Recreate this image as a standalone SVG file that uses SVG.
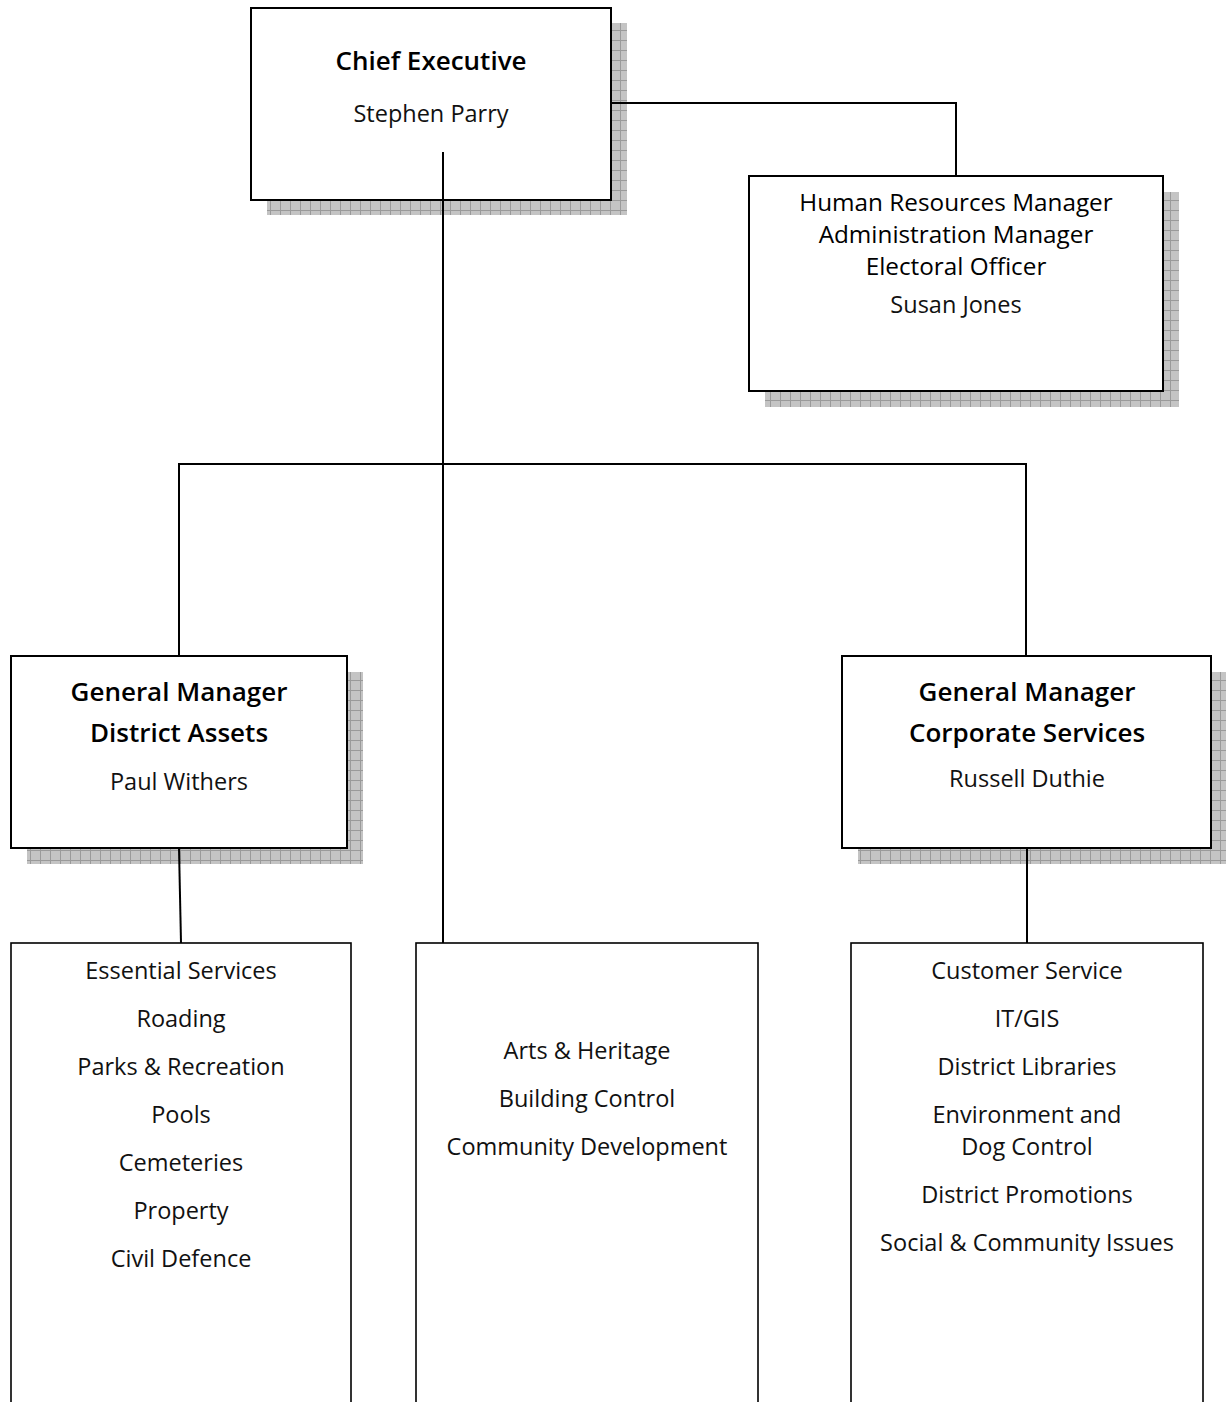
<svg xmlns="http://www.w3.org/2000/svg" width="1226" height="1402" viewBox="0 0 1226 1402">
<defs>
<pattern id="grid" x="0" y="0" width="10" height="10" patternUnits="userSpaceOnUse">
<rect width="10" height="10" fill="#c4c4c4"/>
<path d="M0 0.5H10M0.5 0V10" stroke="#9a9a9a" stroke-width="1" fill="none"/>
</pattern>
</defs>
<style>
.box{fill:#fff;stroke:#000;stroke-width:2}
.box2{fill:#fff;stroke:#000;stroke-width:1.6}
.sh{fill:url(#grid)}
.t{font-family:"Open Sans","Noto Sans",sans-serif;font-size:23.5px;fill:#111;text-anchor:middle}
.b{font-family:"Open Sans","Noto Sans",sans-serif;font-size:26px;font-weight:600;fill:#000;text-anchor:middle}
.h{font-family:"Open Sans","Noto Sans",sans-serif;font-size:24.3px;fill:#000;text-anchor:middle}
.ln{stroke:#000;stroke-width:2;fill:none}
</style>
<g id="chief">
<rect class="sh" x="267" y="23" width="360" height="192"/>
<rect class="box" x="251" y="8" width="360" height="192"/>
<text class="b" x="431" y="70">Chief Executive</text>
<text class="t" x="431" y="122">Stephen Parry</text>
</g>
<g id="hr">
<rect class="sh" x="765" y="192" width="414" height="215"/>
<rect class="box" x="749" y="176" width="414" height="215"/>
<text class="h" x="956" y="211">Human Resources Manager</text>
<text class="h" x="956" y="243">Administration Manager</text>
<text class="h" x="956" y="275">Electoral Officer</text>
<text class="t" x="956" y="313">Susan Jones</text>
</g>
<g id="gm-assets">
<rect class="sh" x="27" y="672" width="336" height="192"/>
<rect class="box" x="11" y="656" width="336" height="192"/>
<text class="b" x="179" y="701">General Manager</text>
<text class="b" x="179" y="742">District Assets</text>
<text class="t" x="179" y="790">Paul Withers</text>
</g>
<g id="gm-corporate">
<rect class="sh" x="858" y="672" width="370" height="192"/>
<rect class="box" x="842" y="656" width="369" height="192"/>
<text class="b" x="1027" y="701">General Manager</text>
<text class="b" x="1027" y="742">Corporate Services</text>
<text class="t" x="1027" y="787">Russell Duthie</text>
</g>
<g id="assets-list">
<rect class="box2" x="11" y="943" width="340" height="480"/>
<text class="t" x="181" y="979">Essential Services</text>
<text class="t" x="181" y="1027">Roading</text>
<text class="t" x="181" y="1075">Parks &amp; Recreation</text>
<text class="t" x="181" y="1123">Pools</text>
<text class="t" x="181" y="1171">Cemeteries</text>
<text class="t" x="181" y="1219">Property</text>
<text class="t" x="181" y="1267">Civil Defence</text>
</g>
<g id="ce-list">
<rect class="box2" x="416" y="943" width="342" height="480"/>
<text class="t" x="587" y="1059">Arts &amp; Heritage</text>
<text class="t" x="587" y="1107">Building Control</text>
<text class="t" x="587" y="1155">Community Development</text>
</g>
<g id="corporate-list">
<rect class="box2" x="851" y="943" width="352" height="480"/>
<text class="t" x="1027" y="979">Customer Service</text>
<text class="t" x="1027" y="1027">IT/GIS</text>
<text class="t" x="1027" y="1075">District Libraries</text>
<text class="t" x="1027" y="1123">Environment and</text>
<text class="t" x="1027" y="1155">Dog Control</text>
<text class="t" x="1027" y="1203">District Promotions</text>
<text class="t" x="1027" y="1251">Social &amp; Community Issues</text>
</g>
<g id="connectors">
<path class="ln" d="M611 103H956V176"/>
<path class="ln" d="M443 152V943"/>
<path class="ln" d="M179 656V464H1026V656"/>
<path class="ln" d="M179 848L181 943"/>
<path class="ln" d="M1027 848V943"/>
</g>
</svg>
